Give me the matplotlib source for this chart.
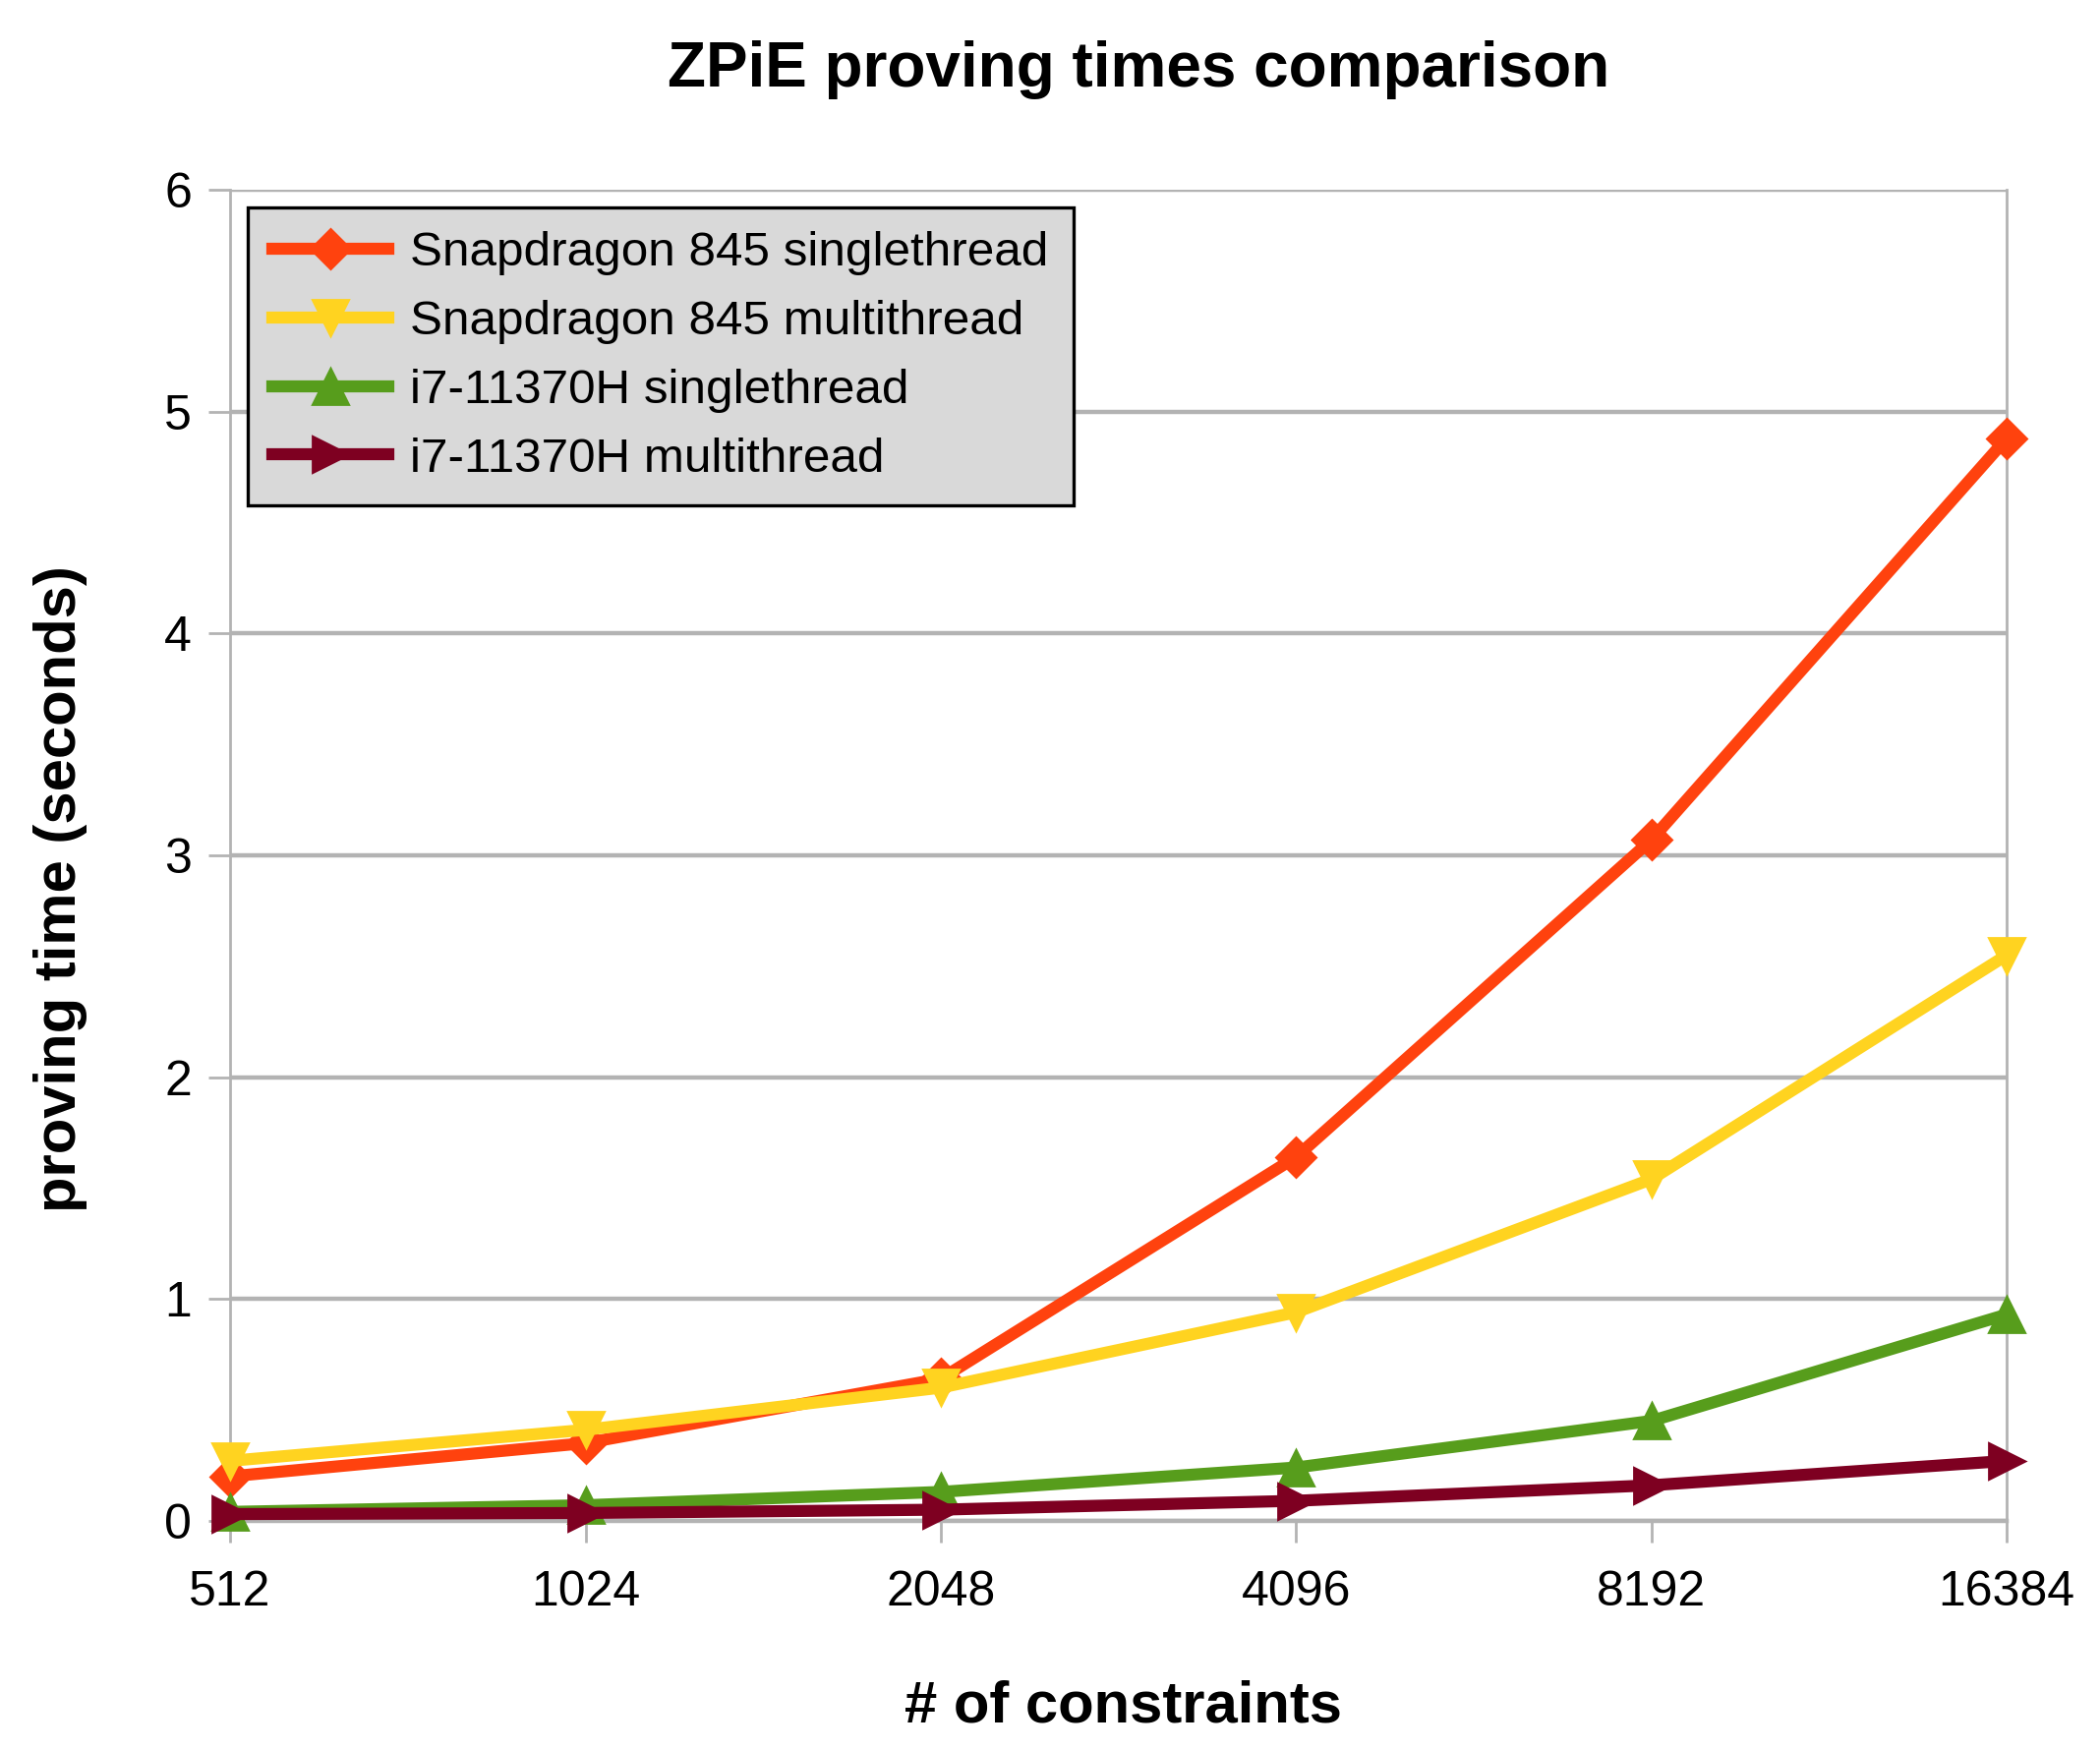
import matplotlib
matplotlib.use("Agg")
import matplotlib.pyplot as plt

plt.rcParams["font.family"] = ["Liberation Sans", "DejaVu Sans"]

constraints = ["512", "1024", "2048", "4096", "8192", "16384"]
sd_single = [0.20, 0.35, 0.64, 1.64, 3.07, 4.88]
sd_multi = [0.27, 0.41, 0.60, 0.94, 1.54, 2.55]
i7_single = [0.04, 0.07, 0.13, 0.24, 0.45, 0.93]
i7_multi = [0.03, 0.035, 0.05, 0.09, 0.16, 0.27]

series = [
    ("Snapdragon 845 singlethread", sd_single, "#ff420e", "D"),
    ("Snapdragon 845 multithread", sd_multi, "#ffd320", "v"),
    ("i7-11370H singlethread", i7_single, "#579d1c", "^"),
    ("i7-11370H multithread", i7_multi, "#7e0021", ">"),
]

fig = plt.figure(figsize=(10.68, 8.9), dpi=200)
ax = fig.add_axes([0.1096, 0.131, 0.846, 0.7605])

xs = list(range(len(constraints)))
for label, values, color, marker in series:
    ax.plot(xs, values, color=color, linewidth=4.4, marker=marker,
            markersize=13 if marker != "D" else 10, label=label,
            clip_on=False, zorder=3)

ax.set_xlim(0, len(constraints) - 1)
ax.set_ylim(0, 6)
ax.set_yticks(range(7))
ax.set_xticks(xs)
ax.set_xticklabels(constraints)
ax.yaxis.grid(True, color="#b3b3b3", linewidth=1.6)
ax.set_axisbelow(True)
for side in ["left", "right", "top", "bottom"]:
    ax.spines[side].set_color("#b3b3b3")
    ax.spines[side].set_linewidth(1.0)
ax.spines["top"].set_visible(False)
ax.spines["bottom"].set_linewidth(1.6)
ax.tick_params(axis="both", colors="#b3b3b3", labelcolor="black",
               labelsize=18, length=8, width=1.0, direction="out")
ax.tick_params(axis="x", pad=10)
ax.tick_params(axis="y", pad=6)

leg = ax.legend(loc="upper left", bbox_to_anchor=(0.0098, 0.987),
                fontsize=17.8, frameon=True, fancybox=False,
                facecolor="#d9d9d9", edgecolor="black", framealpha=1,
                handlelength=2.4, borderpad=0.5, labelspacing=0.5,
                handletextpad=0.45, borderaxespad=0)
leg.get_frame().set_linewidth(1.2)

fig.text(0.542, 0.96, "ZPiE proving times comparison", ha="center",
         va="center", fontsize=23, fontweight="bold")
fig.text(0.535, 0.025, "# of constraints", ha="center", va="center",
         fontsize=21.5, fontweight="bold")
fig.text(0.029, 0.492, "proving time (seconds)", ha="center", va="center",
         rotation=90, fontsize=21.5, fontweight="bold")

fig.savefig("out.png", dpi=200)
